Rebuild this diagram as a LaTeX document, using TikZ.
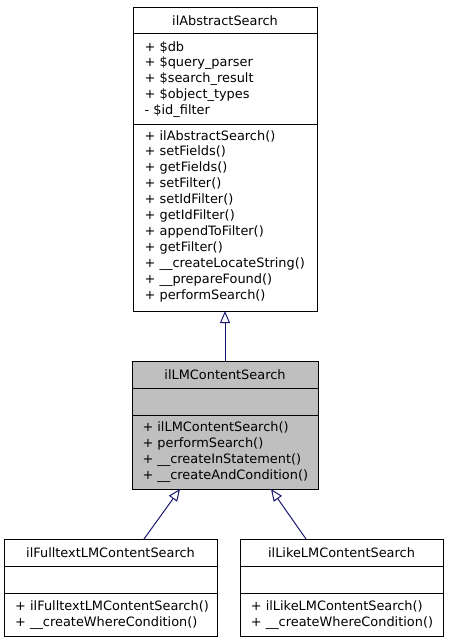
\documentclass[tikz,border=0pt]{standalone}
\usepackage{fontspec}
\setmainfont{DejaVu Sans}
\usetikzlibrary{arrows.meta}
\definecolor{edgeblue}{RGB}{25,25,112}
\definecolor{boxgray}{RGB}{191,191,191}
\begin{document}
\begin{tikzpicture}[x=1pt,y=-1pt,
  box/.style={draw=black, line width=1pt, inner sep=0pt, outer sep=0pt},
  divider/.style={draw=black, line width=1pt},
  txt/.style={anchor=base west, inner sep=0pt, font=\fontsize{12.9}{15.8}\selectfont},
  ttl/.style={anchor=base, inner sep=0pt, font=\fontsize{12.9}{15.8}\selectfont},
  inh/.style={draw=edgeblue, line width=1pt, -{Triangle[open, length=12pt, width=10pt]}}
]
\useasboundingbox (0,0) rectangle (448,643);
\fill[white] (0,0) rectangle (448,643);

% ilAbstractSearch
\node[box, fill=white, minimum width=184pt, minimum height=304pt] (abs) at (225,159) {};
\draw[divider] (133,33) -- (317,33);
\draw[divider] (133,124) -- (317,124);
\node[ttl] (absT) at (225,25) {ilAbstractSearch};
\foreach \t [count=\i from 0] in {+ \$db, + \$query\_parser, + \$search\_result, + \$object\_types, - \$id\_filter}
  \node[txt] (absA\i) at (144.5,51+15.8*\i) {\t};
\foreach \t [count=\i from 0] in {+ ilAbstractSearch(), + setFields(), + getFields(), + setFilter(), + setIdFilter(), + getIdFilter(), + appendToFilter(), + getFilter(), + \_\_createLocateString(), + \_\_prepareFound(), + performSearch()}
  \node[txt] (absM\i) at (144.5,140+15.9*\i) {\t};

% ilLMContentSearch
\node[box, fill=boxgray, minimum width=186pt, minimum height=128pt] (mid) at (225,425) {};
\draw[divider] (132,388) -- (318,388);
\draw[divider] (132,415) -- (318,415);
\node[ttl] (midT) at (225,379.3) {ilLMContentSearch};
\foreach \t [count=\i from 0] in {+ ilLMContentSearch(), + performSearch(), + \_\_createInStatement(), + \_\_createAndCondition()}
  \node[txt] (midM\i) at (142.3,431.3+15.9*\i) {\t};

% ilFulltextLMContentSearch
\node[box, fill=white, minimum width=213pt, minimum height=97pt] (full) at (110.5,587.5) {};
\draw[divider] (4,566) -- (217,566);
\draw[divider] (4,593) -- (217,593);
\node[ttl] (fullT) at (110.5,557) {ilFulltextLMContentSearch};
\node[txt] (fullM0) at (15,610.7) {+ ilFulltextLMContentSearch()};
\node[txt] (fullM1) at (15,626.6) {+ \_\_createWhereCondition()};

% ilLikeLMContentSearch
\node[box, fill=white, minimum width=203pt, minimum height=97pt] (like) at (341.5,587.5) {};
\draw[divider] (240,566) -- (443,566);
\draw[divider] (240,593) -- (443,593);
\node[ttl] (likeT) at (341.5,557) {ilLikeLMContentSearch};
\node[txt] (likeM0) at (250.7,610.7) {+ ilLikeLMContentSearch()};
\node[txt] (likeM1) at (250.7,626.6) {+ \_\_createWhereCondition()};

% connectors
\coordinate (fullTop) at (144,539);
\coordinate (midL) at (180,489);
\coordinate (likeTop) at (306,539);
\coordinate (midR) at (271,489);
\draw[inh] (mid.north) -- (abs.south);
\draw[inh] (fullTop) -- (midL);
\draw[inh] (likeTop) -- (midR);
\end{tikzpicture}
\end{document}
